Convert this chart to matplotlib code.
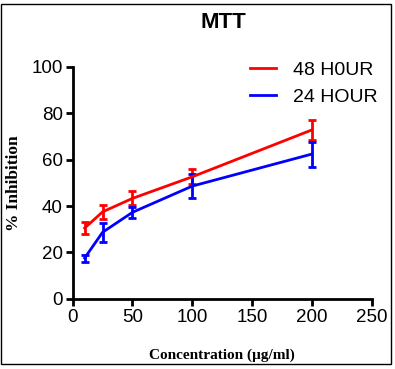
import matplotlib
matplotlib.use("Agg")
import matplotlib.pyplot as plt
from matplotlib.patches import Rectangle

# MTT assay, % inhibition vs concentration
conc = [10, 25, 50, 100, 200]
inh_48 = [30.5, 37.5, 43.3, 52.6, 72.8]
err_48 = [2.6, 3.0, 3.0, 3.3, 4.3]
inh_24 = [17.6, 28.7, 37.3, 48.6, 62.4]
err_24 = [1.5, 4.1, 2.5, 5.3, 5.4]

plt.rcParams['font.family'] = ['Liberation Sans', 'DejaVu Sans']

fig = plt.figure(figsize=(3.95, 3.69), dpi=100)
ax = fig.add_axes([0.184, 0.19, 0.757, 0.629])

ax.errorbar(conc, inh_48, yerr=err_48, color='#ff0000', lw=2, capsize=3,
            capthick=2, elinewidth=2, label='48 H0UR', clip_on=False)
ax.errorbar(conc, inh_24, yerr=err_24, color='#0000ff', lw=2, capsize=3,
            capthick=2, elinewidth=2, label='24 HOUR', clip_on=False)

ax.set_xlim(0, 250)
ax.set_ylim(0, 100)
ax.set_xticks([0, 50, 100, 150, 200, 250])
ax.set_yticks([0, 20, 40, 60, 80, 100])
ax.spines['top'].set_visible(False)
ax.spines['right'].set_visible(False)
for s in ['left', 'bottom']:
    ax.spines[s].set_linewidth(2)
ax.tick_params(direction='out', length=5, width=2, labelsize=13.5, pad=2)

fig.text(223 / 395, 1 - 22 / 369, 'MTT', fontsize=16, fontweight='bold',
         ha='center', va='center')
ax.set_xlabel('Concentration (\u00b5g/ml)', family='Liberation Serif',
              fontweight='bold', fontsize=11)
ax.set_ylabel('% Inhibition', family='Liberation Serif',
              fontweight='bold', fontsize=12.5)
ax.xaxis.set_label_coords(0.5, -0.215)
ax.yaxis.set_label_coords(-0.168, 0.5)

h, l = ax.get_legend_handles_labels()
h = [x[0] for x in h]
ax.legend(h, l, loc='upper left', bbox_to_anchor=(0.593, 1.024), frameon=False,
          fontsize=14, handlelength=1.35, handletextpad=0.85, labelspacing=0.5,
          borderpad=0, borderaxespad=0)

fig.patches.append(Rectangle((0.003, 0.013), 0.986, 0.977, transform=fig.transFigure,
                             fill=False, edgecolor='black', lw=1))

fig.savefig('out.png', dpi=100)
